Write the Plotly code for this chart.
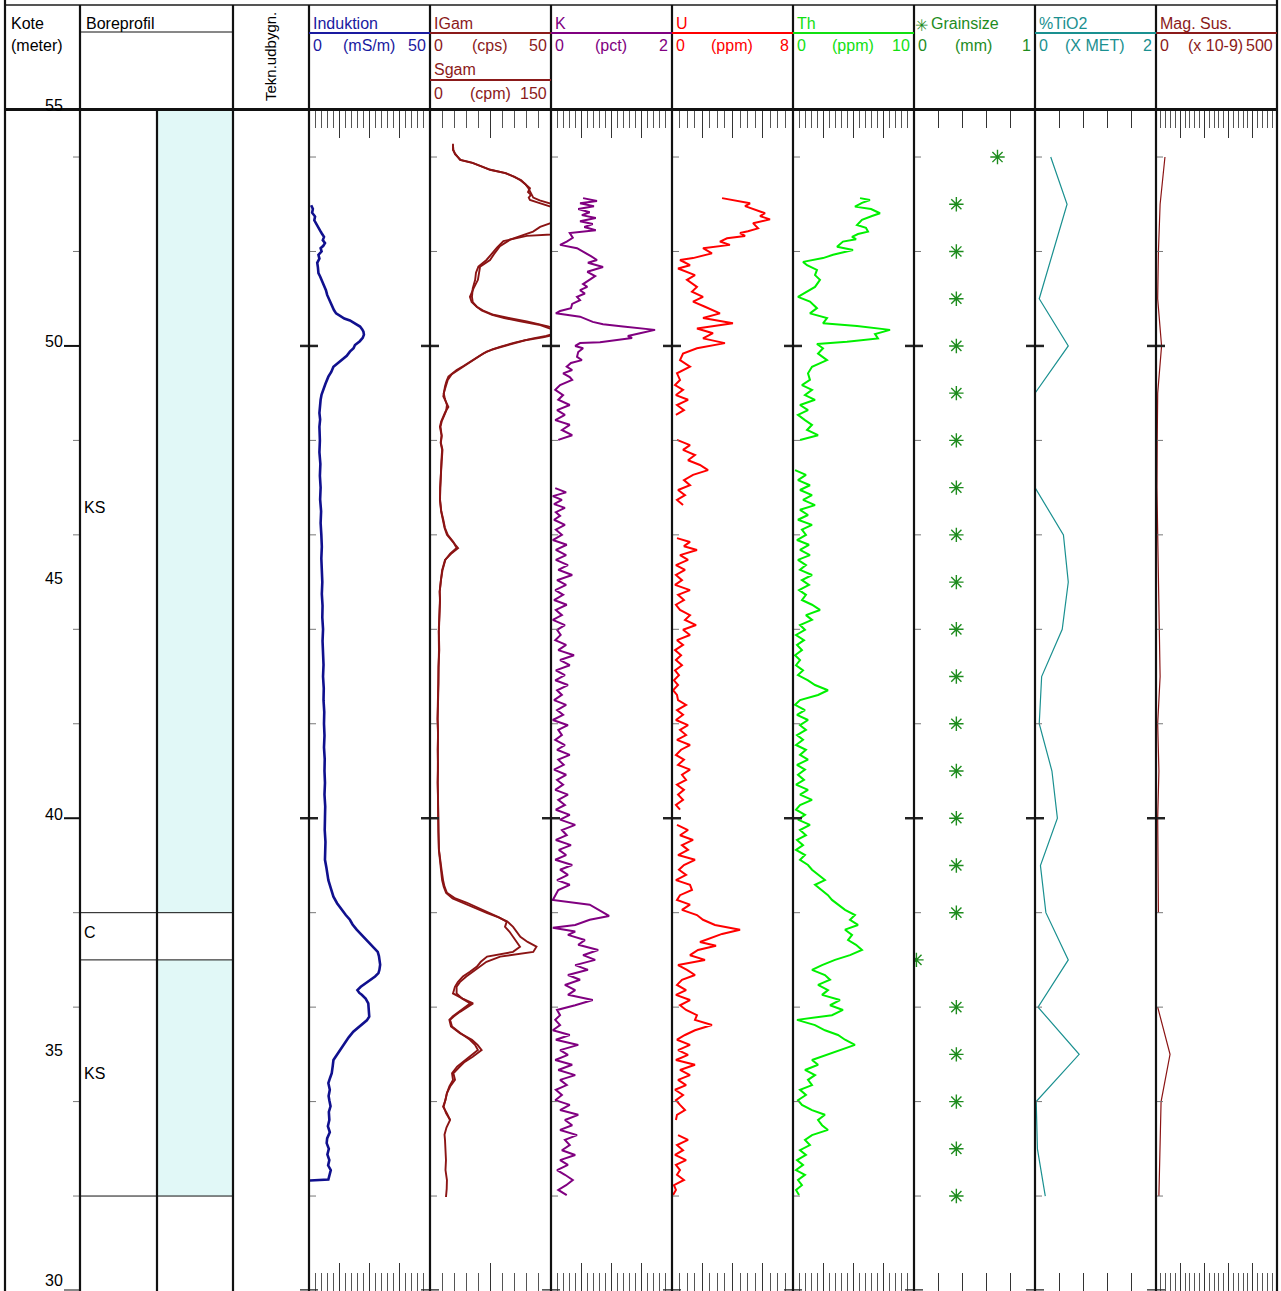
import plotly.graph_objects as go

# ---------------------------------------------------------------------------
# Borehole log data (depth as "Kote" in metres, value in track units)
# ---------------------------------------------------------------------------
kote_labels = [55, 50, 45, 40, 35, 30]

litho_top = [55, 38, 37]
litho_base = [38, 37, 32]
litho_code = ["KS", "C", "KS"]

induktion_log = [
    (52.98, 0.9), (52.90, 1.6), (52.82, 1.3), (52.74, 2.5), (52.66, 2.2), (52.58, 3.2), (52.52, 3.8),
    (52.44, 4.6), (52.38, 5.3), (52.31, 6.2), (52.24, 5.7), (52.18, 6.6), (52.12, 5.9), (52.07, 4.8),
    (52.00, 5.2), (51.93, 3.9), (51.85, 4.3), (51.76, 3.4), (51.66, 3.7), (51.54, 3.9), (51.47, 4.6),
    (51.40, 5.2), (51.30, 5.9), (51.18, 7.0), (51.08, 7.5), (50.97, 8.4), (50.87, 9.1), (50.76, 10.3),
    (50.69, 11.2), (50.63, 12.8), (50.58, 14.6), (50.54, 16.9), (50.48, 19.0), (50.41, 21.1),
    (50.35, 22.0), (50.30, 22.5), (50.24, 22.7), (50.17, 22.2), (50.10, 21.0), (50.02, 19.0),
    (49.95, 18.4), (49.88, 16.9), (49.79, 15.6), (49.70, 13.5), (49.63, 11.8), (49.56, 10.1),
    (49.45, 9.2), (49.35, 8.0), (49.20, 6.8), (49.07, 5.9), (48.97, 5.2), (48.86, 4.8), (48.72, 4.5),
    (48.58, 4.3), (48.44, 4.6), (48.29, 4.3), (48.00, 4.5), (47.75, 4.3), (47.50, 4.7), (47.25, 4.5),
    (47.00, 4.8), (46.75, 4.6), (46.50, 5.0), (46.25, 4.8), (46.00, 5.1), (45.75, 5.3), (45.50, 5.1),
    (45.25, 5.4), (45.00, 5.5), (44.75, 5.3), (44.50, 5.6), (44.25, 5.5), (44.00, 5.8), (43.75, 5.6),
    (43.50, 5.9), (43.25, 6.0), (43.00, 5.8), (42.75, 6.1), (42.50, 6.0), (42.25, 6.3), (42.00, 6.2),
    (41.75, 6.4), (41.50, 6.2), (41.25, 6.5), (41.00, 6.4), (40.75, 6.6), (40.50, 6.4), (40.25, 6.7),
    (40.00, 6.6), (39.75, 6.5), (39.50, 6.8), (39.25, 6.6), (39.12, 6.6), (38.95, 7.2), (38.80, 7.6),
    (38.69, 8.0), (38.52, 9.0), (38.34, 10.1), (38.20, 11.6), (38.06, 13.5), (37.95, 15.2),
    (37.85, 16.9), (37.75, 18.0), (37.64, 19.7), (37.50, 22.3), (37.35, 25.2), (37.25, 27.0),
    (37.17, 28.4), (37.08, 28.9), (37.00, 29.1), (36.90, 29.4), (36.79, 29.1), (36.72, 28.7),
    (36.65, 27.3), (36.58, 25.4), (36.51, 23.1), (36.43, 21.4), (36.36, 20.0), (36.30, 20.8),
    (36.26, 21.8), (36.18, 23.4), (36.08, 24.5), (35.95, 24.7), (35.80, 24.9), (35.72, 23.9),
    (35.66, 22.5), (35.58, 20.6), (35.48, 18.3), (35.36, 16.4), (35.24, 14.9), (35.12, 13.2),
    (35.02, 12.1), (34.95, 11.0), (34.88, 10.1), (34.75, 9.8), (34.60, 9.4), (34.50, 8.7), (34.39, 8.0),
    (34.25, 8.6), (34.12, 8.1), (34.03, 8.4), (33.90, 8.9), (33.78, 8.2), (33.61, 8.4), (33.48, 7.8),
    (33.35, 8.6), (33.22, 7.5), (33.12, 7.3), (33.00, 8.2), (32.88, 7.6), (32.76, 8.4), (32.65, 7.9),
    (32.55, 9.0), (32.48, 8.7), (32.40, 8.2), (32.35, 8.0), (32.33, 0.4),
]

igam_log = [
    (54.28, 9.5), (54.15, 9.5), (54.08, 10.3), (53.94, 12.4), (53.87, 17.8), (53.80, 21.5), (53.73, 24.8),
    (53.66, 31.4), (53.58, 35.0), (53.51, 37.6), (53.43, 39.3), (53.34, 41.3), (53.26, 40.5),
    (53.20, 41.7), (53.14, 40.8), (53.09, 41.3), (53.03, 45.0), (52.98, 48.8), (52.90, 53.0),
    (52.76, 55.0), (52.62, 51.0), (52.52, 45.5), (52.42, 42.6), (52.25, 33.1), (52.11, 28.9),
    (51.95, 26.5), (51.82, 24.8), (51.68, 20.7), (51.55, 20.2), (51.40, 19.8), (51.22, 18.0),
    (51.04, 16.5), (50.93, 17.2), (50.83, 19.3), (50.75, 22.0), (50.66, 26.2), (50.59, 33.0),
    (50.52, 40.0), (50.41, 49.2), (50.35, 55.0), (50.27, 52.0), (50.21, 48.0), (50.16, 42.6),
    (50.07, 35.0), (49.98, 28.9), (49.88, 23.4), (49.79, 20.5), (49.70, 17.9), (49.58, 14.0),
    (49.49, 11.0), (49.35, 7.6), (49.25, 6.8), (49.14, 6.2), (48.93, 5.5), (48.82, 6.4), (48.71, 7.6),
    (48.60, 6.3), (48.50, 5.5), (48.40, 4.6), (48.29, 4.1), (48.10, 4.8), (47.95, 4.4), (47.80, 5.0),
    (47.55, 4.7), (47.27, 4.5), (47.00, 4.0), (46.74, 4.1), (46.50, 4.6), (46.32, 5.4), (46.15, 6.0),
    (46.00, 7.0), (45.85, 9.5), (45.72, 11.6), (45.60, 8.7), (45.47, 6.2), (45.25, 5.0), (45.04, 4.5),
    (44.80, 4.0), (44.62, 4.1), (44.30, 3.8), (43.95, 3.6), (43.56, 3.7), (43.20, 3.5), (42.85, 3.4),
    (42.50, 3.3), (42.10, 3.1), (41.80, 3.3), (41.45, 3.2), (41.10, 3.4), (40.75, 3.2), (40.39, 3.3),
    (40.05, 3.3), (39.70, 3.5), (39.33, 3.7), (39.12, 4.1), (38.90, 4.8), (38.69, 5.4), (38.55, 6.0),
    (38.42, 7.0), (38.30, 10.5), (38.21, 15.3), (38.10, 20.2), (37.99, 24.8), (37.90, 28.5),
    (37.81, 31.7), (37.70, 31.0), (37.60, 32.8), (37.49, 34.3), (37.38, 36.0), (37.28, 37.2),
    (37.17, 34.3), (37.07, 23.6), (36.96, 21.0), (36.86, 19.4), (36.75, 16.5), (36.65, 13.6),
    (36.53, 11.5), (36.43, 10.3), (36.29, 9.5), (36.18, 13.5), (36.08, 17.8), (35.99, 15.0),
    (35.90, 12.4), (35.80, 9.8), (35.73, 8.3), (35.59, 9.1), (35.45, 12.5), (35.31, 16.5), (35.20, 18.6),
    (35.09, 19.8), (34.95, 16.5), (34.84, 13.5), (34.74, 11.2), (34.60, 9.1), (34.46, 9.5), (34.32, 8.0),
    (34.18, 7.0), (34.03, 6.4), (33.89, 5.4), (33.75, 7.0), (33.61, 8.3), (33.45, 6.8), (33.30, 6.0),
    (33.19, 6.2), (33.00, 6.5), (32.76, 6.6), (32.55, 6.4), (32.34, 7.0), (32.15, 6.9), (31.98, 6.6),
]

sgam_log = [
    (54.25, 28.5), (54.15, 29.0), (54.06, 31.0), (53.94, 38.0), (53.88, 52.0), (53.80, 64.0), (53.73, 75.0),
    (53.66, 93.0), (53.58, 105.0), (53.51, 112.0), (53.43, 118.0), (53.34, 122.0), (53.27, 124.0),
    (53.20, 126.0), (53.14, 128.0), (53.08, 136.0), (53.02, 150.0), (52.95, 162.0), (52.40, 160.0),
    (52.36, 150.0), (52.33, 120.0), (52.22, 91.0), (52.08, 83.0), (51.95, 76.0), (51.82, 70.0),
    (51.68, 60.0), (51.55, 57.0), (51.40, 56.0), (51.22, 53.0), (51.04, 52.0), (50.93, 53.0),
    (50.83, 58.0), (50.75, 64.0), (50.66, 77.0), (50.59, 92.0), (50.52, 112.0), (50.45, 135.0),
    (50.37, 148.0), (50.30, 160.0), (50.24, 155.0), (50.18, 140.0), (50.12, 118.0), (50.02, 95.0),
    (49.93, 78.0), (49.84, 66.0), (49.75, 58.0), (49.64, 47.0), (49.52, 37.0), (49.40, 27.0),
    (49.28, 22.0), (49.14, 19.5), (49.00, 17.0), (48.88, 18.5), (48.75, 21.0), (48.62, 20.0),
    (48.52, 17.5), (48.40, 14.5), (48.29, 13.0), (48.10, 14.5), (47.95, 13.5), (47.80, 15.5),
    (47.55, 14.5), (47.27, 13.5), (47.00, 12.5), (46.74, 12.5), (46.50, 14.0), (46.32, 16.5),
    (46.15, 18.5), (46.00, 22.0), (45.85, 29.0), (45.72, 33.0), (45.60, 25.0), (45.47, 19.0),
    (45.25, 15.5), (45.04, 13.5), (44.80, 12.0), (44.62, 12.5), (44.30, 11.5), (43.95, 11.0),
    (43.56, 11.5), (43.20, 10.5), (42.85, 10.5), (42.50, 10.0), (42.10, 9.5), (41.80, 10.0),
    (41.45, 9.5), (41.10, 10.0), (40.75, 9.5), (40.39, 10.0), (40.05, 10.0), (39.70, 10.5),
    (39.33, 11.0), (39.12, 12.5), (38.90, 13.5), (38.69, 15.0), (38.55, 17.0), (38.42, 20.0),
    (38.30, 28.0), (38.21, 40.0), (38.10, 55.0), (37.99, 71.0), (37.90, 85.0), (37.81, 96.0),
    (37.70, 103.0), (37.60, 107.0), (37.49, 112.0), (37.38, 121.0), (37.28, 132.0), (37.17, 128.0),
    (37.07, 87.0), (36.96, 70.0), (36.86, 62.0), (36.75, 52.0), (36.65, 45.0), (36.53, 37.0),
    (36.43, 33.0), (36.29, 33.0), (36.18, 40.0), (36.08, 50.0), (35.99, 43.0), (35.90, 35.0),
    (35.80, 28.0), (35.73, 24.0), (35.59, 26.0), (35.45, 37.0), (35.31, 52.0), (35.20, 59.0),
    (35.09, 64.0), (34.95, 53.0), (34.84, 43.0), (34.74, 37.0), (34.60, 29.0), (34.46, 31.0),
    (34.32, 25.0), (34.18, 21.0), (34.03, 19.0), (33.89, 17.0), (33.75, 20.0), (33.61, 25.0),
]

k_log = [
    (53.13, 0.53), (53.07, 0.76), (53.02, 0.48), (52.96, 0.71), (52.90, 0.45), (52.83, 0.64), (52.77, 0.51),
    (52.71, 0.74), (52.64, 0.48), (52.58, 0.69), (52.52, 0.55), (52.45, 0.74), (52.39, 0.31), (52.29, 0.36),
    (52.21, 0.26), (52.14, 0.15), (52.07, 0.43), (52.00, 0.53), (51.90, 0.66), (51.82, 0.76), (51.76, 0.61),
    (51.67, 0.86), (51.57, 0.60), (51.48, 0.73), (51.40, 0.64), (51.31, 0.53), (51.25, 0.60), (51.18, 0.48),
    (51.11, 0.56), (51.04, 0.43), (50.97, 0.48), (50.89, 0.35), (50.80, 0.33), (50.74, 0.15), (50.69, 0.08),
    (50.62, 0.48), (50.51, 0.69), (50.46, 0.86), (50.41, 1.19), (50.36, 1.55), (50.34, 1.72), (50.27, 1.47),
    (50.21, 1.27), (50.17, 1.34), (50.13, 1.09), (50.08, 0.81), (50.06, 0.48), (50.00, 0.40), (49.95, 0.53),
    (49.87, 0.45), (49.77, 0.43), (49.70, 0.51), (49.64, 0.33), (49.56, 0.26), (49.49, 0.35), (49.42, 0.20),
    (49.34, 0.31), (49.28, 0.35), (49.17, 0.15), (49.07, 0.07), (48.96, 0.20), (48.86, 0.12), (48.75, 0.31),
    (48.64, 0.10), (48.54, 0.23), (48.43, 0.07), (48.33, 0.31), (48.22, 0.18), (48.11, 0.35), (48.01, 0.12),
    (47.95, None),
    (46.99, 0.07), (46.90, 0.25), (46.82, 0.03), (46.74, 0.18), (46.65, 0.05), (46.57, 0.23), (46.48, 0.08),
    (46.40, 0.15), (46.32, 0.05), (46.21, 0.23), (46.11, 0.08), (46.00, 0.18), (45.89, 0.03), (45.79, 0.26),
    (45.68, 0.08), (45.57, 0.25), (45.47, 0.08), (45.36, 0.28), (45.26, 0.12), (45.15, 0.35), (45.04, 0.10),
    (44.94, 0.25), (44.83, 0.07), (44.73, 0.20), (44.62, 0.05), (44.52, 0.26), (44.41, 0.08), (44.30, 0.18),
    (44.20, 0.03), (44.09, 0.23), (43.99, 0.10), (43.88, 0.16), (43.77, 0.07), (43.67, 0.25), (43.56, 0.12),
    (43.45, 0.38), (43.35, 0.15), (43.24, 0.31), (43.13, 0.08), (43.03, 0.23), (42.92, 0.07), (42.82, 0.28),
    (42.71, 0.10), (42.61, 0.18), (42.50, 0.05), (42.40, 0.25), (42.29, 0.10), (42.19, 0.20), (42.08, 0.03),
    (41.97, 0.28), (41.87, 0.12), (41.76, 0.18), (41.66, 0.07), (41.55, 0.23), (41.45, 0.10), (41.34, 0.31),
    (41.24, 0.12), (41.13, 0.21), (41.03, 0.05), (40.92, 0.25), (40.81, 0.10), (40.71, 0.20), (40.60, 0.07),
    (40.50, 0.28), (40.39, 0.12), (40.28, 0.23), (40.18, 0.08), (40.07, 0.31), (39.97, 0.15), (39.86, 0.40),
    (39.75, 0.18), (39.64, 0.26), (39.54, 0.08), (39.43, 0.33), (39.33, 0.13), (39.22, 0.25), (39.12, 0.07),
    (39.01, 0.35), (38.91, 0.15), (38.80, 0.28), (38.69, 0.10), (38.59, 0.31), (38.48, 0.12), (38.37, 0.08),
    (38.27, 0.03), (38.17, 0.64), (38.06, 0.78), (37.93, 0.96), (37.85, 0.64), (37.74, 0.40), (37.68, 0.03),
    (37.60, 0.40), (37.53, 0.28), (37.42, 0.56), (37.32, 0.45), (37.21, 0.78), (37.10, 0.53), (37.00, 0.73),
    (36.89, 0.40), (36.79, 0.61), (36.68, 0.28), (36.58, 0.48), (36.47, 0.23), (36.36, 0.40), (36.26, 0.28),
    (36.15, 0.69), (36.04, 0.40), (35.94, 0.10), (35.83, 0.15), (35.73, 0.07), (35.62, 0.15), (35.51, 0.03),
    (35.41, 0.31), (35.31, 0.08), (35.20, 0.45), (35.09, 0.15), (34.99, 0.28), (34.88, 0.07), (34.78, 0.35),
    (34.67, 0.12), (34.56, 0.40), (34.46, 0.15), (34.35, 0.26), (34.25, 0.08), (34.14, 0.18), (34.03, 0.07),
    (33.93, 0.31), (33.82, 0.15), (33.72, 0.45), (33.61, 0.23), (33.50, 0.35), (33.40, 0.15), (33.29, 0.43),
    (33.19, 0.23), (33.08, 0.31), (32.97, 0.18), (32.87, 0.40), (32.76, 0.15), (32.66, 0.28), (32.55, 0.10),
    (32.45, 0.23), (32.34, 0.36), (32.23, 0.25), (32.13, 0.12), (32.02, 0.26),
]

u_log = [
    (53.13, 3.31), (53.09, 3.97), (53.02, 5.16), (52.96, 4.83), (52.88, 5.62), (52.81, 6.15), (52.75, 5.82),
    (52.68, 6.48), (52.60, 5.36), (52.49, 5.69), (52.43, 5.02), (52.39, 4.50), (52.33, 4.83), (52.28, 3.64),
    (52.21, 3.17), (52.14, 3.83), (52.07, 2.05), (51.96, 2.64), (51.86, 1.39), (51.82, 0.53), (51.71, 1.19),
    (51.64, 0.40), (51.50, 1.52), (51.40, 0.99), (51.25, 1.65), (51.15, 1.32), (51.04, 2.05), (50.94, 1.39),
    (50.83, 2.18), (50.69, 3.17), (50.59, 2.05), (50.48, 4.03), (50.37, 1.65), (50.27, 2.71), (50.16, 2.05),
    (50.06, 3.50), (49.95, 1.65), (49.84, 0.73), (49.70, 0.53), (49.56, 1.19), (49.42, 0.33), (49.28, 0.53),
    (49.17, 0.20), (49.07, 0.73), (48.96, 0.26), (48.86, 1.06), (48.75, 0.33), (48.64, 0.79), (48.54, 0.26),
    (48.48, None),
    (48.01, 0.33), (47.90, 1.19), (47.80, 0.73), (47.69, 1.52), (47.58, 1.06), (47.48, 1.85), (47.37, 2.38),
    (47.27, 1.39), (47.16, 0.79), (47.05, 1.19), (46.95, 0.40), (46.84, 0.86), (46.74, 0.33), (46.63, 0.73),
    (46.55, None),
    (45.93, 0.33), (45.85, 1.19), (45.76, 0.79), (45.68, 1.65), (45.57, 0.53), (45.47, 1.06), (45.36, 0.26),
    (45.26, 0.86), (45.15, 0.26), (45.04, 0.66), (44.94, 0.20), (44.83, 1.19), (44.73, 0.40), (44.62, 0.79),
    (44.52, 0.26), (44.41, 0.53), (44.30, 1.19), (44.20, 0.86), (44.09, 1.59), (43.99, 0.73), (43.88, 1.19),
    (43.77, 0.33), (43.67, 0.73), (43.56, 0.20), (43.45, 0.60), (43.35, 0.26), (43.24, 0.66), (43.13, 0.20),
    (43.03, 0.46), (42.92, 0.13), (42.82, 0.40), (42.71, 0.07), (42.61, 0.33), (42.50, 0.40), (42.40, 0.93),
    (42.29, 0.33), (42.19, 0.73), (42.08, 0.26), (41.97, 1.06), (41.87, 0.53), (41.76, 0.93), (41.66, 0.33),
    (41.55, 1.19), (41.45, 0.60), (41.34, 0.26), (41.24, 0.79), (41.13, 0.40), (41.03, 1.19), (40.92, 0.66),
    (40.81, 0.93), (40.71, 0.33), (40.60, 0.79), (40.50, 0.40), (40.39, 0.73), (40.28, 0.26), (40.18, 0.53),
    (40.10, None),
    (39.86, 0.33), (39.75, 1.06), (39.64, 0.53), (39.54, 1.39), (39.43, 0.66), (39.33, 1.06), (39.22, 0.40),
    (39.12, 1.52), (39.01, 0.79), (38.91, 0.46), (38.80, 0.93), (38.69, 0.26), (38.59, 1.19), (38.48, 1.32),
    (38.37, 0.53), (38.27, 0.33), (38.17, 1.19), (38.06, 0.66), (37.95, 1.65), (37.85, 2.05), (37.74, 2.84),
    (37.64, 4.50), (37.55, 3.31), (37.47, 2.64), (37.38, 1.85), (37.30, 2.91), (37.21, 1.72), (37.10, 1.19),
    (37.00, 2.18), (36.89, 0.40), (36.79, 0.99), (36.68, 1.52), (36.58, 0.66), (36.47, 0.33), (36.36, 0.93),
    (36.26, 0.26), (36.15, 1.19), (36.04, 0.53), (35.94, 0.93), (35.83, 1.65), (35.73, 1.52), (35.62, 2.64),
    (35.51, 1.52), (35.41, 0.86), (35.31, 0.33), (35.20, 1.19), (35.09, 0.40), (34.99, 1.06), (34.88, 0.26),
    (34.78, 1.52), (34.67, 0.53), (34.56, 1.19), (34.46, 0.40), (34.35, 0.93), (34.25, 0.20), (34.14, 0.73),
    (34.03, 0.26), (33.93, 0.53), (33.82, 0.86), (33.72, 0.33), (33.61, 0.26), (33.55, None),
    (33.29, 0.40), (33.19, 1.06), (33.08, 0.33), (32.97, 0.73), (32.87, 0.20), (32.76, 0.93), (32.66, 0.26),
    (32.55, 0.53), (32.45, 0.33), (32.34, 0.79), (32.23, 0.13), (32.13, 0.26), (32.02, 0.07),
]

th_log = [
    (53.13, 5.54), (53.09, 6.36), (53.03, 5.70), (52.95, 5.12), (52.90, 6.45), (52.81, 7.19), (52.75, 6.53),
    (52.67, 5.70), (52.56, 5.29), (52.50, 6.03), (52.42, 6.20), (52.37, 5.37), (52.31, 4.88), (52.26, 5.21),
    (52.21, 4.13), (52.10, 3.64), (52.03, 4.96), (51.93, 3.31), (51.86, 2.48), (51.78, 0.83), (51.71, 1.16),
    (51.61, 1.98), (51.50, 1.82), (51.40, 2.23), (51.25, 1.82), (51.15, 1.16), (51.04, 0.41), (50.94, 1.40),
    (50.80, 1.98), (50.69, 1.40), (50.59, 2.81), (50.48, 2.48), (50.42, 5.29), (50.34, 8.02), (50.25, 6.78),
    (50.16, 7.02), (50.09, 4.46), (50.04, 1.98), (49.95, 2.48), (49.84, 2.07), (49.70, 2.81), (49.56, 1.57),
    (49.42, 1.24), (49.28, 1.40), (49.17, 0.74), (49.07, 1.57), (48.96, 0.99), (48.86, 1.82), (48.75, 0.58),
    (48.64, 1.24), (48.54, 0.41), (48.43, 0.99), (48.33, 1.57), (48.22, 1.16), (48.11, 2.07), (48.01, 0.58),
    (47.90, None),
    (47.37, 0.17), (47.27, 1.07), (47.16, 0.41), (47.05, 1.40), (46.95, 0.58), (46.84, 1.57), (46.74, 0.83),
    (46.63, 1.82), (46.53, 0.58), (46.42, 1.24), (46.32, 0.41), (46.21, 1.57), (46.11, 0.74), (46.00, 1.07),
    (45.89, 0.33), (45.79, 1.32), (45.68, 0.58), (45.57, 1.40), (45.47, 0.41), (45.36, 1.07), (45.26, 0.58),
    (45.15, 1.57), (45.04, 0.74), (44.94, 1.32), (44.83, 0.50), (44.73, 1.07), (44.62, 0.74), (44.52, 1.57),
    (44.41, 2.23), (44.30, 1.07), (44.20, 1.57), (44.09, 0.58), (43.99, 0.99), (43.88, 0.25), (43.77, 0.91),
    (43.67, 0.33), (43.56, 0.74), (43.45, 0.17), (43.35, 0.58), (43.24, 0.25), (43.13, 0.83), (43.03, 0.41),
    (42.92, 1.24), (42.82, 1.82), (42.71, 2.89), (42.61, 2.07), (42.50, 0.58), (42.40, 0.17), (42.29, 0.99),
    (42.19, 0.33), (42.08, 1.24), (41.97, 0.58), (41.87, 1.07), (41.76, 0.33), (41.66, 0.83), (41.55, 0.25),
    (41.45, 1.07), (41.34, 0.58), (41.24, 1.24), (41.13, 0.33), (41.03, 0.99), (40.92, 0.41), (40.81, 0.91),
    (40.71, 0.25), (40.60, 1.24), (40.50, 0.58), (40.39, 1.57), (40.28, 0.58), (40.18, 0.25), (40.07, 0.99),
    (39.97, 0.41), (39.86, 1.40), (39.75, 0.58), (39.64, 1.07), (39.54, 0.33), (39.43, 0.83), (39.33, 0.25),
    (39.22, 0.99), (39.12, 0.58), (39.01, 1.24), (38.91, 1.57), (38.80, 2.07), (38.69, 2.64), (38.59, 1.82),
    (38.48, 2.40), (38.37, 2.89), (38.27, 3.22), (38.17, 3.72), (38.06, 4.30), (37.95, 5.12), (37.85, 4.71),
    (37.74, 5.37), (37.64, 4.30), (37.53, 4.88), (37.42, 4.55), (37.32, 5.21), (37.21, 5.70), (37.10, 4.71),
    (37.00, 3.47), (36.89, 2.40), (36.79, 1.57), (36.68, 2.64), (36.58, 3.06), (36.47, 2.07), (36.36, 2.89),
    (36.26, 2.40), (36.15, 3.88), (36.04, 3.06), (35.94, 4.13), (35.83, 3.22), (35.73, 0.33), (35.62, 1.82),
    (35.51, 2.64), (35.41, 3.72), (35.31, 4.30), (35.20, 5.12), (35.09, 3.88), (34.99, 2.64), (34.88, 1.57),
    (34.78, 2.07), (34.67, 0.99), (34.56, 1.82), (34.46, 1.24), (34.35, 1.57), (34.25, 0.58), (34.14, 1.07),
    (34.03, 0.41), (33.93, 0.74), (33.82, 1.57), (33.72, 2.64), (33.61, 2.07), (33.50, 2.40), (33.40, 2.89),
    (33.29, 1.57), (33.19, 0.99), (33.08, 1.40), (32.97, 0.58), (32.87, 1.07), (32.76, 0.33), (32.66, 0.83),
    (32.55, 0.25), (32.45, 0.99), (32.34, 0.41), (32.23, 0.74), (32.13, 0.25), (32.02, 0.50),
]

grain_depth = [54, 53, 52, 51, 50, 49, 48, 47, 46, 45, 44, 43, 42, 41, 40, 39, 38, 37, 36, 35, 34, 33, 32]
grain_mm = [0.69, 0.35, 0.35, 0.35, 0.35, 0.35, 0.35, 0.35, 0.35, 0.35, 0.35, 0.35,
            0.35, 0.35, 0.35, 0.35, 0.35, 0.02, 0.35, 0.35, 0.35, 0.35, 0.35]

tio2_depth = [54, 53, 52, 51, 50, 49, 48, 47, 46, 45, 44, 43, 42, 41, 40, 39, 38, 37, 36, 35, 34, 33, 32]
tio2_val = [0.26, 0.53, 0.30, 0.07, 0.55, 0.00, 0.00, 0.00, 0.47, 0.55, 0.45, 0.11,
            0.07, 0.28, 0.37, 0.09, 0.18, 0.55, 0.05, 0.73, 0.02, 0.04, 0.17]

magsus_depth = [54, 53, 52, 51, 50, 49, 48, 47, 46, 45, 44, 43, 42, 41, 40, 39, 38, 37, 36, 35, 34, 33, 32]
magsus_val = [37, 17, 10, 7, 23, 7, 5, 4, 7, 10, 12, 17, 7, 12, 7, 10, 10, None, 7, 58, 21, 17, 12]

# ---------------------------------------------------------------------------
# Page geometry (pixels) and styling
# ---------------------------------------------------------------------------
W, H = 1281, 1291
PLOT_TOP, PLOT_BOT = 109.8, 1290.5
FONT = "Liberation Sans, Arial, sans-serif"
FRAME = "#111111"
KS_FILL = "#E1F8F7"


def fx(px):
    return px / W


def fy(py):
    return 1 - py / H


# track: axis id, left, right, range, colour, major tick step, minor tick step
tracks = [
    dict(ax="x", x0=309, x1=430, rng=[0, 50], major=12.5, minor=2.5),
    dict(ax="x2", x0=430, x1=551, rng=[0, 50], major=25, minor=5),
    dict(ax="x4", x0=551, x1=672, rng=[0, 2], major=0.5, minor=0.1),
    dict(ax="x5", x0=672, x1=793, rng=[0, 8], major=2, minor=0.5),
    dict(ax="x6", x0=793, x1=914, rng=[0, 10], major=2.5, minor=0.5),
    dict(ax="x7", x0=914, x1=1035, rng=[0, 1], major=None, minor=0.2),
    dict(ax="x8", x0=1035, x1=1156, rng=[0, 2], major=None, minor=0.4),
    dict(ax="x9", x0=1156, x1=1277, rng=[0, 500], major=100, minor=20),
]

fig = go.Figure()

layout_axes = {}
for t in tracks:
    name = "xaxis" if t["ax"] == "x" else "xaxis" + t["ax"][1:]
    common = dict(domain=[fx(t["x0"]), fx(t["x1"])], range=t["rng"], anchor="y",
                  showgrid=False, zeroline=False, showticklabels=False, showline=False,
                  mirror="ticks", fixedrange=True)
    if t["major"] is not None:
        common.update(ticks="inside", ticklen=28, tickwidth=1, tickcolor="#333333",
                      tick0=0, dtick=t["major"],
                      minor=dict(ticks="inside", ticklen=18, tickwidth=1, tickcolor="#555555",
                                 tick0=0, dtick=t["minor"], showgrid=False))
    else:
        common.update(ticks="inside", ticklen=18, tickwidth=1, tickcolor="#333333",
                      tick0=0, dtick=t["minor"])
    layout_axes[name] = common

# Sgam shares the IGam track with its own 0-150 scale
layout_axes["xaxis3"] = dict(domain=[fx(430), fx(551)], range=[0, 150], anchor="y",
                             overlaying="x2", showgrid=False, zeroline=False,
                             showticklabels=False, ticks="", showline=False, fixedrange=True)


def unzip(log):
    return [d for d, _ in log], [v for _, v in log]


def add_curve(log, axis, color, width):
    depth, val = unzip(log)
    fig.add_trace(go.Scatter(x=val, y=depth, xaxis=axis, yaxis="y", mode="lines",
                             line=dict(color=color, width=width), connectgaps=False,
                             hoverinfo="skip", showlegend=False))


add_curve(induktion_log, "x", "#10108E", 2.6)
add_curve(igam_log, "x2", "#8B1414", 1.9)
add_curve(sgam_log, "x3", "#8B1414", 1.9)
add_curve(k_log, "x4", "#800080", 2.0)
add_curve(u_log, "x5", "#FF0000", 2.0)
add_curve(th_log, "x6", "#00F000", 2.0)

fig.add_trace(go.Scatter(x=grain_mm, y=grain_depth, xaxis="x7", yaxis="y", mode="markers",
                         marker=dict(symbol="asterisk-open", size=12, color="#1E8C1E",
                                     line=dict(color="#1E8C1E", width=1.4)),
                         hoverinfo="skip", showlegend=False))
fig.add_trace(go.Scatter(x=tio2_val, y=tio2_depth, xaxis="x8", yaxis="y", mode="lines",
                         line=dict(color="#1A9090", width=1.2), hoverinfo="skip", showlegend=False))
fig.add_trace(go.Scatter(x=magsus_val, y=magsus_depth, xaxis="x9", yaxis="y", mode="lines",
                         line=dict(color="#8B1414", width=1.2), connectgaps=False,
                         hoverinfo="skip", showlegend=False))

shapes = []


def hline(y, xa, xb, color=FRAME, width=1, yref="paper"):
    yy = fy(y) if yref == "paper" else y
    shapes.append(dict(type="line", xref="paper", yref=yref, x0=fx(xa), x1=fx(xb), y0=yy, y1=yy,
                       line=dict(color=color, width=width), layer="above"))


def vline(x, ya, yb, color=FRAME, width=2.2):
    shapes.append(dict(type="line", xref="paper", yref="paper", x0=fx(x), x1=fx(x),
                       y0=fy(ya), y1=fy(yb), line=dict(color=color, width=width), layer="above"))


# lithology column
for top, base, code in zip(litho_top, litho_base, litho_code):
    if code == "KS":
        shapes.append(dict(type="rect", xref="paper", yref="y", x0=fx(157), x1=fx(233),
                           y0=base, y1=top, fillcolor=KS_FILL, line=dict(width=0), layer="below"))
    if base > 30:
        hline(base, 80, 233, color=FRAME, width=1, yref="y")

# depth ticks along each track edge
edges = [309, 430, 551, 672, 793, 914, 1035, 1156]
for d in range(32, 55, 2):
    if d % 10 == 0:
        continue
    hline(d, 73, 80, color="#777777", width=1, yref="y")
    for e in edges:
        hline(d, e, e + 7, color="#777777", width=1, yref="y")
for d in (50, 40, 30):
    hline(d, 64, 80, color=FRAME, width=2, yref="y")
    for e in edges:
        hline(d, e - 9, e + 9, color="#222222", width=2.5, yref="y")

# frame
hline(5, 5, 1277, color="#555555", width=2)
hline(109.5, 5, 1277, color=FRAME, width=3)
vline(5, 0, H)
vline(1277, 0, H)
for x in [80, 233, 309, 430, 551, 672, 793, 914, 1035, 1156]:
    vline(x, 5, H)
vline(157, 109.5, H)

annotations = []


def label(text, x, y, color="black", anchor="left", size=16, angle=0, yref="paper", yshift=0):
    annotations.append(dict(text=text, x=fx(x), y=(fy(y) if yref == "paper" else y), xref="paper",
                            yref=yref, xanchor=anchor, yanchor="middle", showarrow=False,
                            borderpad=0, borderwidth=0, textangle=angle, yshift=yshift,
                            font=dict(family=FONT, size=size, color=color)))


# header texts
label("Kote", 11, 23)
label("(meter)", 11, 46)
label("Boreprofil", 86, 23)
hline(32, 80, 233, color=FRAME, width=1)
label("Tekn.udbygn.", 270, 57, size=15, anchor="center", angle=-90)

headers = [
    (309, 430, "#1A1AA0", "Induktion", "0", "(mS/m)", "50"),
    (430, 551, "#8B1A1A", "IGam", "0", "(cps)", "50"),
    (551, 672, "#800080", "K", "0", "(pct)", "2"),
    (672, 793, "#FF0000", "U", "0", "(ppm)", "8"),
    (793, 914, "#11E011", "Th", "0", "(ppm)", "10"),
    (914, 1035, "#1E8C1E", None, "0", "(mm)", "1"),
    (1035, 1156, "#1A9090", "%TiO2", "0", "(X MET)", "2"),
    (1156, 1277, "#8B1A1A", "Mag. Sus.", "0", "(x 10-9)", "500"),
]
for x0, x1, col, name, lo, unit, hi in headers:
    if name:
        label(name, x0 + 4, 23, color=col)
        hline(33, x0, x1, color=col, width=2)
    label(lo, x0 + 4, 46, color=col)
    label(unit, (x0 + x1) / 2 - 1, 46, color=col, anchor="center")
    label(hi, x1 - 4, 46, color=col, anchor="right")

label("✳", 921, 26, color="#1E8C1E", anchor="center", size=16)
label("Grainsize", 931, 23, color="#1E8C1E")

label("Sgam", 434, 70, color="#8B1A1A")
hline(80, 430, 551, color="#8B1A1A", width=2)
label("0", 434, 93, color="#8B1A1A")
label("(cpm)", 490, 93, color="#8B1A1A", anchor="center")
label("150", 547, 93, color="#8B1A1A", anchor="right")

# depth labels (the lowest one is lifted so it stays inside the page)
for v in kote_labels:
    label(str(v), 63, v, anchor="right", yref="y", yshift=(10 if v == min(kote_labels) else 4))

# lithology labels
for top, base, code in zip(litho_top, litho_base, litho_code):
    label(code, 84, (top + base) / 2, yref="y", yshift=4)

fig.update_layout(
    width=W, height=H, margin=dict(l=0, r=0, t=0, b=0),
    paper_bgcolor="white", plot_bgcolor="rgba(0,0,0,0)",
    yaxis=dict(domain=[fy(PLOT_BOT), fy(PLOT_TOP)], range=[30, 55], showgrid=False,
               zeroline=False, showticklabels=False, ticks="", showline=False, fixedrange=True),
    shapes=shapes, annotations=annotations, showlegend=False, hovermode=False,
    **layout_axes,
)

fig.write_html("out.html")
